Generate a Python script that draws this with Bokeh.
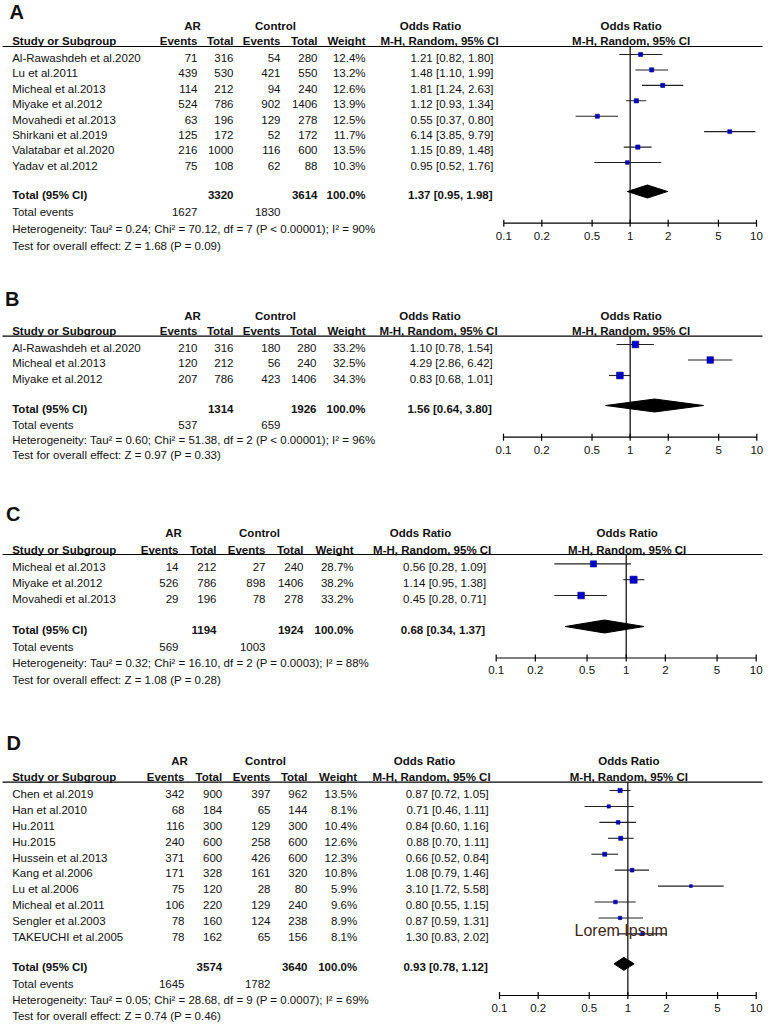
import math
from bokeh.plotting import figure
from bokeh.models import Range1d, LogScale, Label, ColumnDataSource
from bokeh.core.properties import value
from bokeh.embed import file_html
from bokeh.resources import INLINE

# ---------------- data ----------------
A_study = ["Al-Rawashdeh et al.2020", "Lu et al.2011", "Micheal et al.2013", "Miyake et al.2012",
           "Movahedi et al.2013", "Shirkani et al.2019", "Valatabar et al.2020", "Yadav et al.2012"]
A_ar_events = [71, 439, 114, 524, 63, 125, 216, 75]
A_ar_total = [316, 530, 212, 786, 196, 172, 1000, 108]
A_ctrl_events = [54, 421, 94, 902, 129, 52, 116, 62]
A_ctrl_total = [280, 550, 240, 1406, 278, 172, 600, 88]
A_weight = [12.4, 13.2, 12.6, 13.9, 12.5, 11.7, 13.5, 10.3]
A_or = [1.21, 1.48, 1.81, 1.12, 0.55, 6.14, 1.15, 0.95]
A_lo = [0.82, 1.10, 1.24, 0.93, 0.37, 3.85, 0.89, 0.52]
A_hi = [1.80, 1.99, 2.63, 1.34, 0.80, 9.79, 1.48, 1.76]
A_totals = [3320, 3614]
A_total_events = [1627, 1830]
A_pooled = [1.37, 0.95, 1.98]
A_het = "Heterogeneity: Tau² = 0.24; Chi² = 70.12, df = 7 (P < 0.00001); I² = 90%"
A_test = "Test for overall effect: Z = 1.68 (P = 0.09)"

B_study = ["Al-Rawashdeh et al.2020", "Micheal et al.2013", "Miyake et al.2012"]
B_ar_events = [210, 120, 207]
B_ar_total = [316, 212, 786]
B_ctrl_events = [180, 56, 423]
B_ctrl_total = [280, 240, 1406]
B_weight = [33.2, 32.5, 34.3]
B_or = [1.10, 4.29, 0.83]
B_lo = [0.78, 2.86, 0.68]
B_hi = [1.54, 6.42, 1.01]
B_totals = [1314, 1926]
B_total_events = [537, 659]
B_pooled = [1.56, 0.64, 3.80]
B_het = "Heterogeneity: Tau² = 0.60; Chi² = 51.38, df = 2 (P < 0.00001); I² = 96%"
B_test = "Test for overall effect: Z = 0.97 (P = 0.33)"

C_study = ["Micheal et al.2013", "Miyake et al.2012", "Movahedi et al.2013"]
C_ar_events = [14, 526, 29]
C_ar_total = [212, 786, 196]
C_ctrl_events = [27, 898, 78]
C_ctrl_total = [240, 1406, 278]
C_weight = [28.7, 38.2, 33.2]
C_or = [0.56, 1.14, 0.45]
C_lo = [0.28, 0.95, 0.28]
C_hi = [1.09, 1.38, 0.71]
C_totals = [1194, 1924]
C_total_events = [569, 1003]
C_pooled = [0.68, 0.34, 1.37]
C_het = "Heterogeneity: Tau² = 0.32; Chi² = 16.10, df = 2 (P = 0.0003); I² = 88%"
C_test = "Test for overall effect: Z = 1.08 (P = 0.28)"

D_study = ["Chen et al.2019", "Han et al.2010", "Hu.2011", "Hu.2015", "Hussein et al.2013",
           "Kang et al.2006", "Lu et al.2006", "Micheal et al.2011", "Sengler et al.2003",
           "TAKEUCHI et al.2005"]
D_ar_events = [342, 68, 116, 240, 371, 171, 75, 106, 78, 78]
D_ar_total = [900, 184, 300, 600, 600, 328, 120, 220, 160, 162]
D_ctrl_events = [397, 65, 129, 258, 426, 161, 28, 129, 124, 65]
D_ctrl_total = [962, 144, 300, 600, 600, 320, 80, 240, 238, 156]
D_weight = [13.5, 8.1, 10.4, 12.6, 12.3, 10.8, 5.9, 9.6, 8.9, 8.1]
D_or = [0.87, 0.71, 0.84, 0.88, 0.66, 1.08, 3.10, 0.80, 0.87, 1.30]
D_lo = [0.72, 0.46, 0.60, 0.70, 0.52, 0.79, 1.72, 0.55, 0.59, 0.83]
D_hi = [1.05, 1.11, 1.16, 1.11, 0.84, 1.46, 5.58, 1.15, 1.31, 2.02]
D_totals = [3574, 3640]
D_total_events = [1645, 1782]
D_pooled = [0.93, 0.78, 1.12]
D_het = "Heterogeneity: Tau² = 0.05; Chi² = 28.68, df = 9 (P = 0.0007); I² = 69%"
D_test = "Test for overall effect: Z = 0.74 (P = 0.46)"

tick_values = [0.1, 0.2, 0.5, 1, 2, 5, 10]
tick_labels = ["0.1", "0.2", "0.5", "1", "2", "5", "10"]
watermark = "Lorem Ipsum"

PANELS = {
    "A": dict(study=A_study, ae=A_ar_events, at=A_ar_total, ce=A_ctrl_events, ct=A_ctrl_total,
              w=A_weight, orv=A_or, lo=A_lo, hi=A_hi, totals=A_totals, tev=A_total_events,
              pooled=A_pooled, het=A_het, test=A_test),
    "B": dict(study=B_study, ae=B_ar_events, at=B_ar_total, ce=B_ctrl_events, ct=B_ctrl_total,
              w=B_weight, orv=B_or, lo=B_lo, hi=B_hi, totals=B_totals, tev=B_total_events,
              pooled=B_pooled, het=B_het, test=B_test),
    "C": dict(study=C_study, ae=C_ar_events, at=C_ar_total, ce=C_ctrl_events, ct=C_ctrl_total,
              w=C_weight, orv=C_or, lo=C_lo, hi=C_hi, totals=C_totals, tev=C_total_events,
              pooled=C_pooled, het=C_het, test=C_test),
    "D": dict(study=D_study, ae=D_ar_events, at=D_ar_total, ce=D_ctrl_events, ct=D_ctrl_total,
              w=D_weight, orv=D_or, lo=D_lo, hi=D_hi, totals=D_totals, tev=D_total_events,
              pooled=D_pooled, het=D_het, test=D_test),
}

# ---------------- layout (page pixel coordinates) ----------------
LAYOUT = {
    "A": dict(lx=9, ly=11, head1=25, head2=40.7, line=46, row0=57.3, step=15.43, tot_gap=29,
              te_gap=17, foot_step=17.2, axis=222.7, p01=503.3, p10=756,
              ev1=197, tot1=233, ev2=280, tot2=317, wt=365, or_r=493,
              ar_c=192, ctl_c=275, orh_c=430, mh_c=439),
    "B": dict(lx=4.5, ly=298.5, head1=315.7, head2=330.7, line=335.7, row0=347.3, step=15.5, tot_gap=30,
              te_gap=15.7, foot_step=15.3, axis=436.7, p01=503, p10=756.3,
              ev1=197, tot1=233, ev2=280, tot2=316, wt=365, or_r=492.3,
              ar_c=192, ctl_c=275, orh_c=429.5, mh_c=438),
    "C": dict(lx=5.5, ly=513.3, head1=532.7, head2=549, line=554, row0=566.7, step=15.8, tot_gap=31,
              te_gap=17, foot_step=16.5, axis=657.5, p01=495.7, p10=755.7,
              ev1=178, tot1=216, ev2=265, tot2=303, wt=353, or_r=485.7,
              ar_c=173, ctl_c=259, orh_c=420, mh_c=431.7),
    "D": dict(lx=6, ly=742.5, head1=760.7, head2=776.7, line=781.7, row0=793.3, step=15.93, tot_gap=30,
              te_gap=17.3, foot_step=16, axis=995, p01=499, p10=755.7,
              ev1=184, tot1=221.7, ev2=270, tot2=307, wt=356.7, or_r=488.3,
              ar_c=179, ctl_c=265, orh_c=424, mh_c=431),
}
NAME_X = 11.7
FONT = "Liberation Sans"
FS = "11.5px"
TXT = "#111111"
SQ_FILL = "#0000CC"
SQ_LINE = "#00008B"
MARK_DY = -3.3

X0, X1, Y0, Y1 = 0, 768, 0, 1024
p = figure(width=768, height=1024, x_range=Range1d(X0, X1), y_range=Range1d(Y1, Y0),
           toolbar_location=None, output_backend="svg", min_border=0,
           x_axis_location=None, y_axis_location=None, outline_line_color=None,
           background_fill_color="white", border_fill_color="white")
p.grid.visible = False

texts = {}


def T(x, y, s, align="left", bold=False):
    d = texts.setdefault((align, bold), dict(x=[], y=[], t=[]))
    d["x"].append(x)
    d["y"].append(y)
    d["t"].append(s)


def fmt_or(v):
    return f"{v[0]:.2f} [{v[1]:.2f}, {v[2]:.2f}]"


for key, d in PANELS.items():
    L = LAYOUT[key]
    # log range for the forest part, fixed so that 0.1 and 10 land on the measured pixels
    b = (L["p10"] - L["p01"]) / 2.0
    c = (L["p01"] + L["p10"]) / 2.0
    p.extra_x_ranges[key] = Range1d(10 ** ((X0 - c) / b), 10 ** ((X1 - c) / b))
    p.extra_x_scales[key] = LogScale()

    # panel letter
    p.add_layout(Label(x=L["lx"], y=L["ly"], text=key, text_font=FONT, text_font_size="20px",
                       text_font_style="bold", text_baseline="middle", text_color=TXT))

    # headers
    T(L["ar_c"], L["head1"], "AR", "center", True)
    T(L["ctl_c"], L["head1"], "Control", "center", True)
    T(L["orh_c"], L["head1"], "Odds Ratio", "center", True)
    T(c + 1, L["head1"], "Odds Ratio", "center", True)
    T(NAME_X, L["head2"], "Study or Subgroup", "left", True)
    T(L["ev1"], L["head2"], "Events", "right", True)
    T(L["tot1"], L["head2"], "Total", "right", True)
    T(L["ev2"], L["head2"], "Events", "right", True)
    T(L["tot2"], L["head2"], "Total", "right", True)
    T(L["wt"], L["head2"], "Weight", "right", True)
    T(L["mh_c"], L["head2"], "M-H, Random, 95% CI", "center", True)
    T(c + 1, L["head2"], "M-H, Random, 95% CI", "center", True)

    p.segment(x0=[2], x1=[762], y0=[L["line"]], y1=[L["line"]], line_color="black", line_width=1.2)

    n = len(d["study"])
    ys = [L["row0"] + i * L["step"] for i in range(n)]
    for i in range(n):
        y = ys[i]
        T(NAME_X, y, d["study"][i])
        T(L["ev1"], y, str(d["ae"][i]), "right")
        T(L["tot1"], y, str(d["at"][i]), "right")
        T(L["ev2"], y, str(d["ce"][i]), "right")
        T(L["tot2"], y, str(d["ct"][i]), "right")
        T(L["wt"], y, f"{d['w'][i]:.1f}%", "right")
        T(L["or_r"], y, fmt_or([d["orv"][i], d["lo"][i], d["hi"][i]]), "right")

    ty = ys[-1] + L["tot_gap"]
    T(NAME_X, ty, "Total (95% CI)", "left", True)
    T(L["tot1"], ty, str(d["totals"][0]), "right", True)
    T(L["tot2"], ty, str(d["totals"][1]), "right", True)
    T(L["wt"], ty, "100.0%", "right", True)
    T(L["or_r"] - 1, ty, fmt_or(d["pooled"]), "right", True)

    tey = ty + L["te_gap"]
    T(NAME_X, tey, "Total events")
    T(L["ev1"], tey, str(d["tev"][0]), "right")
    T(L["ev2"], tey, str(d["tev"][1]), "right")
    T(NAME_X, tey + L["foot_step"], d["het"])
    T(NAME_X, tey + 2 * L["foot_step"], d["test"])

    # forest marks
    my = [y + MARK_DY for y in ys]
    p.segment(x0=[1], x1=[1], y0=[L["line"]], y1=[L["axis"]], x_range_name=key,
              line_color="black", line_width=1.2)
    p.segment(x0=d["lo"], x1=d["hi"], y0=my, y1=my, x_range_name=key, line_color="#222222", line_width=1.1)
    sizes = [1.15 * math.sqrt(w) for w in d["w"]]
    p.scatter(x=d["orv"], y=my, size=sizes, marker="square", x_range_name=key,
              fill_color=SQ_FILL, line_color=SQ_LINE, line_width=0.6)
    dy = ty + MARK_DY
    po, pl, ph = d["pooled"]
    p.patch(x=[pl, po, ph, po], y=[dy, dy - 6.5, dy, dy + 6.5], x_range_name=key,
            fill_color="black", line_color="black")

    # axis
    ax = L["axis"]
    p.segment(x0=[tick_values[0]], x1=[tick_values[-1]], y0=[ax], y1=[ax], x_range_name=key,
              line_color="black", line_width=1.2)
    p.segment(x0=tick_values, x1=tick_values, y0=[ax - 3.5] * len(tick_values),
              y1=[ax + 3.5] * len(tick_values), x_range_name=key, line_color="black", line_width=1.2)
    p.text(x=tick_values, y=[ax + 12.3] * len(tick_values), text=tick_labels, x_range_name=key,
           text_align="center", text_baseline="middle", text_font=value(FONT),
           text_font_size=value(FS), text_color=TXT)

for (align, bold), d in texts.items():
    src = ColumnDataSource(d)
    p.text(x="x", y="y", text="t", source=src, text_align=align, text_baseline="middle",
           text_font=value(FONT), text_font_size=value(FS),
           text_font_style="bold" if bold else "normal", text_color=TXT)

p.add_layout(Label(x=574, y=929.5, text=watermark, text_font=FONT, text_font_size="16px",
                   text_baseline="middle", text_color="#3d2616"))

open("out.html", "w").write(file_html(p, INLINE))
